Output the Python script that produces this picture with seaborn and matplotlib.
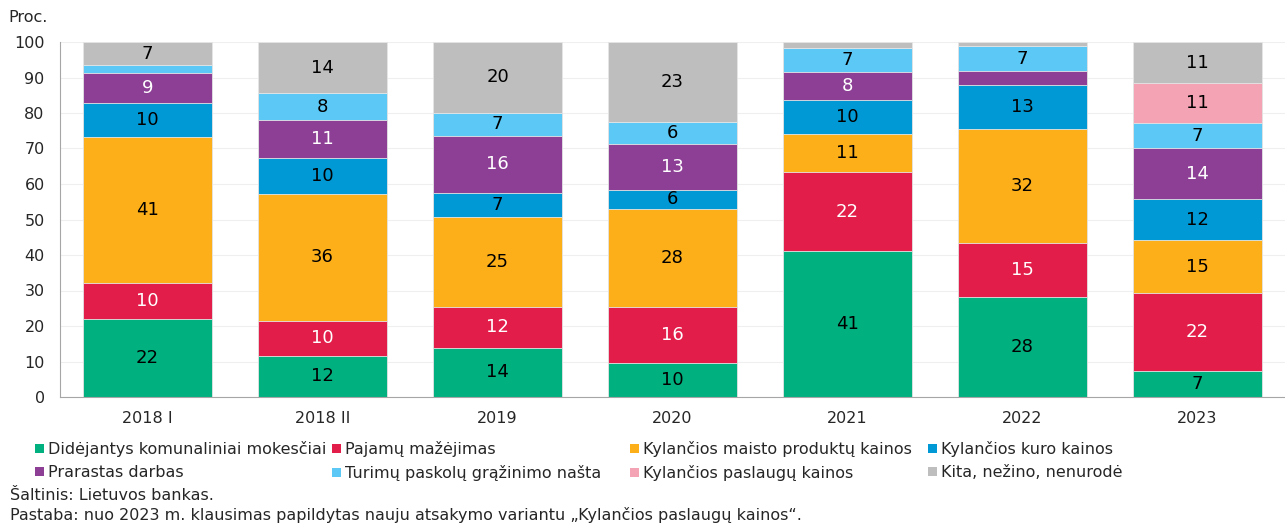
import numpy as np
import pandas as pd
import seaborn as sns
import matplotlib.pyplot as plt
from matplotlib.patches import Patch

laikotarpiai = ['2018 I', '2018 II', '2019', '2020', '2021', '2022', '2023']

# reiksmes is paveikslo (proc.), nuo apacios i virsu
komunaliniai = [22.1, 11.6, 13.9, 9.7, 41.0, 28.3, 7.2]
pajamos = [10.1, 9.9, 11.5, 15.6, 22.4, 15.1, 22.1]
maistas = [41.0, 35.8, 25.3, 27.6, 10.6, 32.0, 14.8]
kuras = [9.5, 10.0, 6.9, 5.5, 9.8, 12.6, 11.6]
darbas = [8.7, 10.6, 15.9, 12.9, 7.8, 3.9, 14.3]
paskolos = [2.0, 7.7, 6.6, 6.1, 6.6, 6.9, 7.2]
paslaugos = [0, 0, 0, 0, 0, 0, 11.3]
kita = [6.6, 14.4, 19.9, 22.6, 1.8, 1.2, 11.4]

serijos = ['Didėjantys komunaliniai mokesčiai', 'Pajamų mažėjimas',
           'Kylančios maisto produktų kainos', 'Kylančios kuro kainos',
           'Prarastas darbas', 'Turimų paskolų grąžinimo našta',
           'Kylančios paslaugų kainos', 'Kita, nežino, nenurodė']
reiksmes = [komunaliniai, pajamos, maistas, kuras, darbas, paskolos, paslaugos, kita]
spalvos = ['#00b07e', '#e31d4a', '#fdaf1a', '#0098d5', '#8d3f96', '#5bc8f5', '#f4a3b4', '#bebebe']
balti = ['Pajamų mažėjimas', 'Prarastas darbas']

df = pd.DataFrame(dict(zip(serijos, reiksmes)), index=laikotarpiai)
kaupiam = df.cumsum(axis=1)

sns.set_style('white')
plt.rcParams['font.family'] = ['DejaVu Sans']

fig = plt.figure(figsize=(12.85, 5.25), dpi=100)
ax = fig.add_axes([60 / 1285, 128 / 525, 1 - 60 / 1285, 355 / 525])

# stulpeliai piesiami nuo virsutinio kaupiamo iki apatinio
for s, c in zip(serijos[::-1], spalvos[::-1]):
    sns.barplot(x=laikotarpiai, y=kaupiam[s].values, color=c, saturation=1, width=0.737,
                edgecolor='#e6e6e6', linewidth=0.6, errorbar=None, ax=ax, zorder=2)

for i, p in enumerate(laikotarpiai):
    apacia = 0
    for s in serijos:
        v = df.loc[p, s]
        if round(v) >= 5:
            ax.text(i, apacia + v / 2, f'{v:.0f}', ha='center', va='center',
                    fontsize=13, color='white' if s in balti else 'black', zorder=3)
        apacia += v

ax.set_ylim(0, 100)
ax.set_xlim(-0.5, 6.5)
ax.set_yticks(range(0, 101, 10))
ax.yaxis.grid(True, color='#efefef', linewidth=0.8, zorder=0)
ax.set_axisbelow(True)
ax.tick_params(axis='y', length=0, pad=11, labelsize=11.5)
ax.tick_params(axis='x', length=0, pad=10, labelsize=11.5)
ax.set_xlabel('')
ax.set_ylabel('')
for k in ['top', 'right']:
    ax.spines[k].set_visible(False)
ax.spines['left'].set_color('#a6a6a6')
ax.spines['bottom'].set_color('#a6a6a6')
ax.spines['left'].set_zorder(4)
ax.spines['bottom'].set_zorder(4)

fig.text(8 / 1285, 1 - 18 / 525, 'Proc.', fontsize=11.5, va='center', ha='left')

# legenda - keturi stulpeliai po du irasus
stulp = [[0, 4], [1, 5], [2, 6], [3, 7]]
xs = [35, 332, 630, 928]
for idx, x0 in zip(stulp, xs):
    h = [Patch(facecolor=spalvos[j], edgecolor='none', label=serijos[j]) for j in idx]
    fig.legend(handles=h, loc='upper left', bbox_to_anchor=(x0 / 1285, 1 - 441 / 525),
               frameon=False, fontsize=11.5, borderpad=0, borderaxespad=0,
               handlelength=0.55, handleheight=0.55, handletextpad=0.25,
               labelspacing=0.5)

fig.text(10 / 1285, 1 - 496 / 525, 'Šaltinis: Lietuvos bankas.', fontsize=11.5, va='center')
fig.text(10 / 1285, 1 - 515 / 525,
         'Pastaba: nuo 2023 m. klausimas papildytas nauju atsakymo variantu „Kylančios paslaugų kainos“.',
         fontsize=11.5, va='center')

fig.savefig('out.png', dpi=100)
